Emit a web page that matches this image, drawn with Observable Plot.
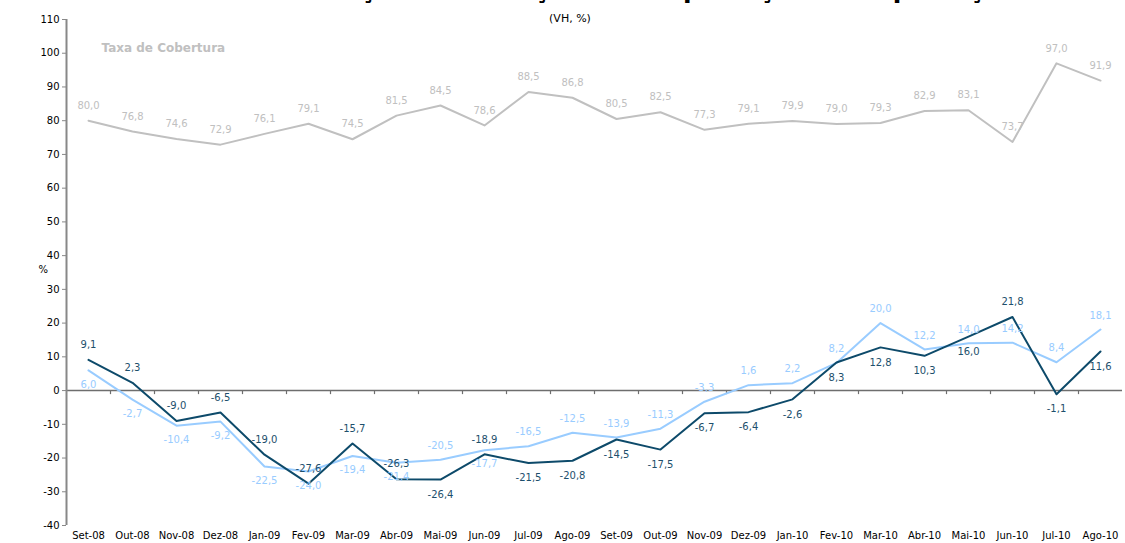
<!DOCTYPE html>
<html><head><meta charset="utf-8">
<script src="https://cdn.jsdelivr.net/npm/d3@7"></script>
<script src="https://cdn.jsdelivr.net/npm/@observablehq/plot@0.6"></script>
<style>
body{margin:0;background:#fff;font-family:"DejaVu Sans",Arial,sans-serif;}
#wrap{position:relative;width:1125px;height:543px;overflow:hidden;background:#fff;}
#chart{position:absolute;top:0;left:0;}
#title{position:absolute;top:-23px;left:0;width:1160px;text-align:center;font-weight:bold;font-size:25px;line-height:26px;white-space:nowrap;color:#000;}
#subtitle{position:absolute;top:12px;left:0;width:1140px;text-align:center;font-size:11px;color:#000;}
</style></head><body>
<div id="wrap"><div id="chart"></div>
<div id="title">Gráfico 3 – Evolução da Variação das Exportações e Importações</div>
<div id="subtitle">(VH, %)</div></div>
<script>
const months = ["Set-08","Out-08","Nov-08","Dez-08","Jan-09","Fev-09","Mar-09","Abr-09","Mai-09","Jun-09","Jul-09","Ago-09","Set-09","Out-09","Nov-09","Dez-09","Jan-10","Fev-10","Mar-10","Abr-10","Mai-10","Jun-10","Jul-10","Ago-10"];
const taxaCobertura = [80.0,76.8,74.6,72.9,76.1,79.1,74.5,81.5,84.5,78.6,88.5,86.8,80.5,82.5,77.3,79.1,79.9,79.0,79.3,82.9,83.1,73.7,97.0,91.9];
const exportacoes = [6.0,-2.7,-10.4,-9.2,-22.5,-24.0,-19.4,-21.4,-20.5,-17.7,-16.5,-12.5,-13.9,-11.3,-3.3,1.6,2.2,8.2,20.0,12.2,14.0,14.2,8.4,18.1];
const importacoes = [9.1,2.3,-9.0,-6.5,-19.0,-27.6,-15.7,-26.3,-26.4,-18.9,-21.5,-20.8,-14.5,-17.5,-6.7,-6.4,-2.6,8.3,12.8,10.3,16.0,21.8,-1.1,11.6];
// which side of its point each label sits on
const importLabelSide = ["above","above","above","above","above","above","above","above","below","above","below","below","below","below","below","below","below","below","below","below","below","above","below","below"];
const exportLabelSide = ["below","below","below","below","below","below","below","below","above","below","above","above","above","above","above","above","above","above","above","above","above","above","above","above"];
const yTicks = [-40,-30,-20,-10,0,10,20,30,40,50,60,70,80,90,100,110];

const W = 1125, H = 543, mL = 66, mR = 3, mT = 19, mB = 18;
const step = (W - mL - mR) / months.length;
const rows = months.map((m, i) => ({m, taxa: taxaCobertura[i], exp: exportacoes[i], imp: importacoes[i], impSide: importLabelSide[i], expSide: exportLabelSide[i]}));
const fmt = v => v.toFixed(1).replace(".", ",");
const GREY = "#c0c0c0", LIGHT = "#99ccff", DARK = "#0d4a6a", DARKTXT = "#1d4f6c";

const chart = Plot.plot({
  width: W, height: H, marginLeft: mL, marginRight: mR, marginTop: mT, marginBottom: mB,
  style: {fontFamily: "DejaVu Sans, Arial, sans-serif", fontSize: "10px", background: "#fff", color: "#000"},
  x: {type: "point", domain: months, padding: 0.5, label: null},
  y: {domain: [-40, 110], label: null},
  marks: [
    Plot.ruleY([0], {stroke: "#6e6e6e", strokeWidth: 1.5}),
    Plot.ruleX(months.slice(1), {x: d => d, y1: 0, y2: -1.2, dx: -step / 2, stroke: "#6e6e6e", strokeWidth: 1.2}),
    Plot.ruleX([months[0]], {y1: -40, y2: 110, dx: -step / 2, stroke: "#888", strokeWidth: 2}),
    Plot.axisY({ticks: yTicks, tickSize: 4, tickPadding: 3, stroke: "#888", tickFormat: d => String(d).replace("−", "-"), label: null}),
    Plot.axisX({tickSize: 0, tickPadding: 6, label: null}),
    Plot.text(["%"], {frameAnchor: "left", dx: -28, dy: -3, fontSize: 10}),
    Plot.text(["Taxa de Cobertura"], {frameAnchor: "top-left", dx: 35, dy: 24, fill: GREY, fontWeight: "bold", fontSize: 12, textAnchor: "start"}),
    Plot.lineY(rows, {x: "m", y: "taxa", stroke: GREY, strokeWidth: 2}),
    Plot.lineY(rows, {x: "m", y: "exp", stroke: LIGHT, strokeWidth: 2}),
    Plot.lineY(rows, {x: "m", y: "imp", stroke: DARK, strokeWidth: 2}),
    Plot.text(rows, {x: "m", y: "taxa", text: d => fmt(d.taxa), dy: -15, fill: GREY}),
    Plot.text(rows.filter(d => d.expSide === "above"), {x: "m", y: "exp", text: d => fmt(d.exp), dy: -14, fill: LIGHT}),
    Plot.text(rows.filter(d => d.expSide === "below"), {x: "m", y: "exp", text: d => fmt(d.exp), dy: 14, fill: LIGHT}),
    Plot.text(rows.filter(d => d.impSide === "above"), {x: "m", y: "imp", text: d => fmt(d.imp), dy: -15, fill: DARKTXT}),
    Plot.text(rows.filter(d => d.impSide === "below"), {x: "m", y: "imp", text: d => fmt(d.imp), dy: 15, fill: DARKTXT})
  ]
});
document.getElementById("chart").appendChild(chart);
</script>
</body></html>
